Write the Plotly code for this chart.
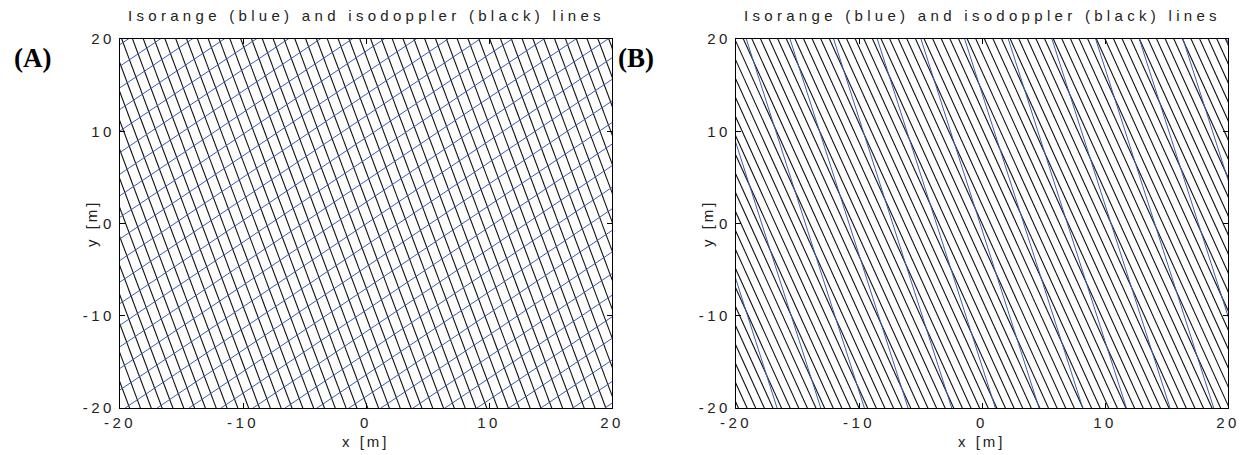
import plotly.graph_objects as go

# ---------------- data ----------------
tick_vals = [-20, -10, 0, 10, 20]
tick_labels = ["-20", "-10", "0", "10", "20"]

# Panel A: isodoppler (black) lines, x = x0 + k*y
a_black_k = -0.28
a_black_x0 = [-25.70, -24.82, -23.94, -23.06, -22.18, -21.30, -20.42, -19.54, -18.66, -17.78,
              -16.90, -16.02, -15.14, -14.26, -13.38, -12.50, -11.62, -10.74, -9.86, -8.98,
              -8.10, -7.22, -6.34, -5.46, -4.58, -3.70, -2.82, -1.94, -1.06, -0.18,
              0.70, 1.58, 2.46, 3.34, 4.22, 5.10, 5.98, 6.86, 7.74, 8.62,
              9.50, 10.38, 11.26, 12.14, 13.02, 13.90, 14.78, 15.66, 16.54, 17.42,
              18.30, 19.18, 20.06, 20.94, 21.82, 22.70, 23.58, 24.46, 25.34]
# Panel A: isorange (blue) lines, y = m*x + c
a_blue_m = 0.9
a_blue_c = [37.40, 35.06, 32.72, 30.38, 28.04, 25.70, 23.36, 21.02, 18.68, 16.34,
            14.00, 11.66, 9.32, 6.98, 4.64, 2.30, -0.04, -2.38, -4.72, -7.06,
            -9.40, -11.74, -14.08, -16.42, -18.76, -21.10, -23.44, -25.78, -28.12, -30.46,
            -32.80, -35.14, -37.48]

# Panel B: isodoppler (black) lines, x = x0 + k*y
b_black_k = -0.34
b_black_x0 = [-26.6, -25.9, -25.2, -24.5, -23.8, -23.1, -22.4, -21.7, -21.0, -20.3,
              -19.6, -18.9, -18.2, -17.5, -16.8, -16.1, -15.4, -14.7, -14.0, -13.3,
              -12.6, -11.9, -11.2, -10.5, -9.8, -9.1, -8.4, -7.7, -7.0, -6.3,
              -5.6, -4.9, -4.2, -3.5, -2.8, -2.1, -1.4, -0.7, 0.0, 0.7,
              1.4, 2.1, 2.8, 3.5, 4.2, 4.9, 5.6, 6.3, 7.0, 7.7,
              8.4, 9.1, 9.8, 10.5, 11.2, 11.9, 12.6, 13.3, 14.0, 14.7,
              15.4, 16.1, 16.8, 17.5, 18.2, 18.9, 19.6, 20.3, 21.0, 21.7,
              22.4, 23.1, 23.8, 24.5, 25.2, 25.9, 26.6]
# Panel B: isorange (blue) lines, x = x0 + k*y
b_blue_k = -0.24
b_blue_x0 = [-21.46, -17.91, -14.36, -10.81, -7.26, -3.71, -0.16, 3.39, 6.94, 10.49,
             14.04, 17.59, 21.14, 24.69]

BLACK = "#111111"
BLUE = "#3a5bb0"
FONT = "Liberation Sans, Arial, sans-serif"


def steep(x0s, k):
    xs, ys = [], []
    for x0 in x0s:
        xs += [x0 + k * -25, x0 + k * 25, None]
        ys += [-25, 25, None]
    return xs, ys


def shallow(cs, m):
    xs, ys = [], []
    for c in cs:
        xs += [-25, 25, None]
        ys += [m * -25 + c, m * 25 + c, None]
    return xs, ys


fig = go.Figure()

xs, ys = steep(a_black_x0, a_black_k)
fig.add_trace(go.Scatter(x=xs, y=ys, mode="lines", line=dict(color=BLACK, width=1.1),
                         xaxis="x", yaxis="y", hoverinfo="skip", showlegend=False))
xs, ys = shallow(a_blue_c, a_blue_m)
fig.add_trace(go.Scatter(x=xs, y=ys, mode="lines", line=dict(color=BLUE, width=1),
                         xaxis="x", yaxis="y", hoverinfo="skip", showlegend=False))
xs, ys = steep(b_black_x0, b_black_k)
fig.add_trace(go.Scatter(x=xs, y=ys, mode="lines", line=dict(color=BLACK, width=1.1),
                         xaxis="x2", yaxis="y2", hoverinfo="skip", showlegend=False))
xs, ys = steep(b_blue_x0, b_blue_k)
fig.add_trace(go.Scatter(x=xs, y=ys, mode="lines", line=dict(color=BLUE, width=1),
                         xaxis="x2", yaxis="y2", hoverinfo="skip", showlegend=False))


def spaced(t, sp):
    return f'<span style="letter-spacing:{sp}px">{t}</span>'


ticktext = [spaced(t, 3.5) for t in tick_labels]
# the page body adds an 8 px offset, so the figure is laid out 8 px up/left
OFF = 8
W, H = 1247 - OFF, 455 - OFF
axis_common = dict(range=[-20, 20], showline=True, linecolor="black", linewidth=1.2,
                   mirror="allticks", ticks="inside", ticklen=5, tickcolor="black",
                   showgrid=False, zeroline=False, tickvals=tick_vals, ticktext=ticktext,
                   tickfont=dict(family=FONT, size=15, color="#222"), fixedrange=True,
                   automargin=False)

xa = (120 - OFF, 612 - OFF)
xb = (736 - OFF, 1228 - OFF)
ytop, ybot = 39 - OFF, 408 - OFF

fig.update_layout(
    template="none",
    width=W, height=H, margin=dict(l=0, r=0, t=0, b=0, pad=0, autoexpand=False),
    paper_bgcolor="white", plot_bgcolor="white", showlegend=False,
    xaxis=dict(domain=[xa[0] / W, xa[1] / W], anchor="y", ticklabelstandoff=1, **axis_common),
    yaxis=dict(domain=[1 - ybot / H, 1 - ytop / H], anchor="x", ticklabelstandoff=1, **axis_common),
    xaxis2=dict(domain=[xb[0] / W, xb[1] / W], anchor="y2", ticklabelstandoff=1, **axis_common),
    yaxis2=dict(domain=[1 - ybot / H, 1 - ytop / H], anchor="x2", ticklabelstandoff=1, **axis_common),
)

ann = []
title = "Isorange (blue) and isodoppler (black) lines"
for (l, r), lab, lx in [(xa, "(A)", 32 - OFF), (xb, "(B)", 636 - OFF)]:
    cx = (l + r) / 2
    ann.append(dict(x=cx / W, y=1 - (15 - OFF) / H, xref="paper", yref="paper", showarrow=False,
                    text=spaced(title, 4.3), font=dict(family=FONT, size=15, color="#222"),
                    xanchor="center", yanchor="middle"))
    ann.append(dict(x=cx / W, y=1 - (441 - OFF) / H, xref="paper", yref="paper", showarrow=False,
                    text=spaced("x [m]", 3), font=dict(family=FONT, size=15, color="#222"),
                    xanchor="center", yanchor="middle"))
    ann.append(dict(x=(l - 28) / W, y=1 - (223 - OFF) / H, xref="paper", yref="paper", showarrow=False,
                    text=spaced("y [m]", 3), textangle=-90,
                    font=dict(family=FONT, size=15, color="#222"),
                    xanchor="center", yanchor="middle"))
    ann.append(dict(x=lx / W, y=1 - (58 - OFF) / H, xref="paper", yref="paper", showarrow=False,
                    text="<b>" + lab + "</b>",
                    font=dict(family="Liberation Serif, Times New Roman, serif", size=27, color="black"),
                    xanchor="center", yanchor="middle"))
fig.update_layout(annotations=ann)

fig.write_html("out.html")
